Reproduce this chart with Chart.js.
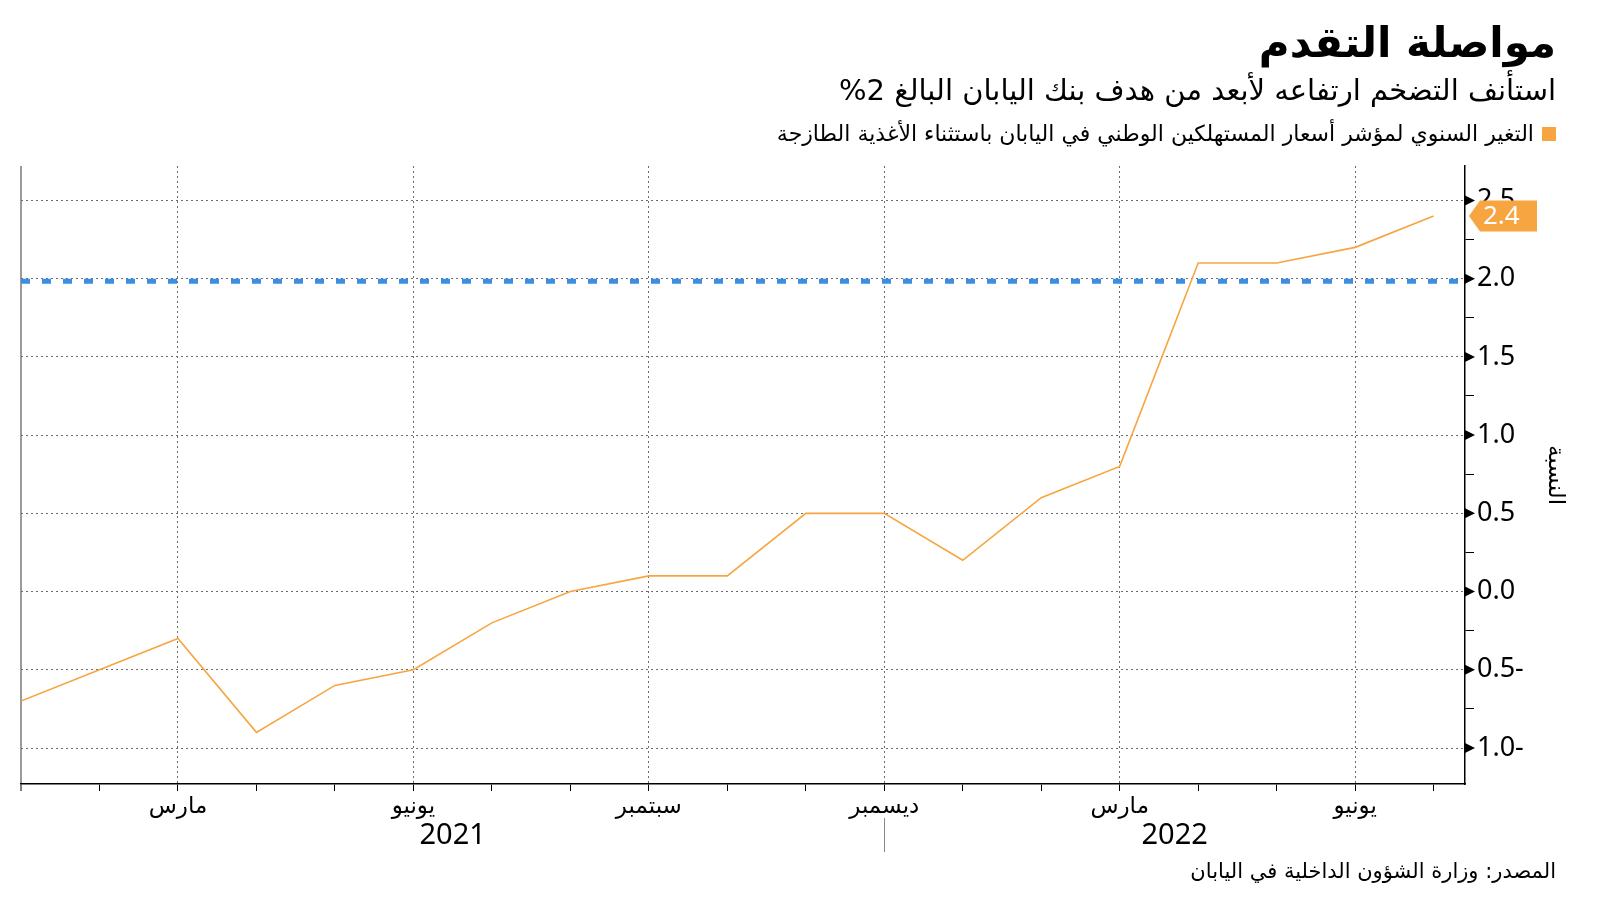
<!DOCTYPE html>
<html lang="ar">
<head>
<meta charset="utf-8">
<script src="https://cdn.jsdelivr.net/npm/chart.js@4/dist/chart.umd.min.js"></script>
<style>
    html, body { margin: 0; padding: 0; background: #fff; }
    #wrap { position: relative; width: 1600px; height: 901px; overflow: hidden; }
    #chart { position: absolute; left: 0; top: 0; }
    .txt {
        position: absolute; right: 44px; direction: rtl; text-align: right;
        font-family: 'DejaVu Sans', sans-serif; color: #000; white-space: nowrap;
    }
    #title { top: 18px; font-size: 42px; font-weight: bold; }
    #subtitle { top: 73px; font-size: 29px; }
    #legend { top: 121px; font-size: 22px; }
    #legend .sw { display: inline-block; width: 14px; height: 14px; background: #f7a541; margin-left: 8px; vertical-align: 0px; }
    #source { top: 859px; font-size: 21px; }
</style>
</head>
<body>
<div id="wrap">
    <canvas id="chart" width="1600" height="901"></canvas>
    <div class="txt" id="title">مواصلة التقدم</div>
    <div class="txt" id="subtitle">استأنف التضخم ارتفاعه لأبعد من هدف بنك اليابان البالغ 2%</div>
    <div class="txt" id="legend"><span class="sw"></span>التغير السنوي لمؤشر أسعار المستهلكين الوطني في اليابان باستثناء الأغذية الطازجة</div>
    <div class="txt" id="source">المصدر: وزارة الشؤون الداخلية في اليابان</div>
</div>
<script>
// Jan 2021 .. Jul 2022
const MONTH_LABELS = [
    'يناير','فبراير','مارس','أبريل','مايو','يونيو','يوليو','أغسطس','سبتمبر','أكتوبر','نوفمبر','ديسمبر',
    'يناير','فبراير','مارس','أبريل','مايو','يونيو','يوليو'
];
const CORE_CPI = [-0.7, -0.5, -0.3, -0.9, -0.6, -0.5, -0.2, 0.0, 0.1, 0.1, 0.5, 0.5, 0.2, 0.6, 0.8, 2.1, 2.1, 2.2, 2.4];
const LABELLED_MONTHS = [2, 5, 8, 11, 14, 17];
const YEAR_LABELS = ['2021', '2022'];
const YEAR_BREAKS = [0, 11, 18.4];   // year label sits centred between breaks
const BOJ_TARGET = 2.0;
const X_MAX = 18.4;
const Y_MIN = -1.23, Y_MAX = 2.72;

const ORANGE = '#f7a541';
const BLUE = '#3b8de6';
const GRID = '#6d6d6d';
const NUM_FONT = "'Noto Sans', 'DejaVu Sans', sans-serif";

function fmtY(v) {
    const s = Math.abs(v).toFixed(1);
    return v < 0 ? s + '-' : s;
}
function isMajor(v) {
    return Math.abs(v * 2 - Math.round(v * 2)) < 1e-6;
}

const extras = {
    id: 'extras',
    // the target band sits just under its grid line in the original
    beforeDatasetDraw(chart, args) {
        if (args.index !== 0) return;
        chart.ctx.save();
        chart.ctx.translate(0, 2.5);
    },
    afterDatasetDraw(chart, args) {
        if (args.index !== 0) return;
        chart.ctx.restore();
    },
    afterDraw(chart) {
        const ctx = chart.ctx;
        const x = chart.scales.x, y = chart.scales.y;
        const axisX = chart.chartArea.right;

        // arrow heads on the major y ticks
        ctx.save();
        ctx.fillStyle = '#000';
        y.ticks.forEach(t => {
            if (!isMajor(t.value)) return;
            const py = y.getPixelForValue(t.value);
            ctx.beginPath();
            ctx.moveTo(axisX, py - 5);
            ctx.lineTo(axisX + 10, py);
            ctx.lineTo(axisX, py + 5);
            ctx.closePath();
            ctx.fill();
        });

        // year divider + year labels
        const bottom = chart.chartArea.bottom;
        ctx.strokeStyle = '#888';
        ctx.lineWidth = 1;
        for (let i = 1; i < YEAR_BREAKS.length - 1; i++) {
            const px = Math.round(x.getPixelForValue(YEAR_BREAKS[i])) + 0.5;
            ctx.beginPath();
            ctx.moveTo(px, bottom + 34);
            ctx.lineTo(px, bottom + 68);
            ctx.stroke();
        }
        ctx.fillStyle = '#000';
        ctx.font = '29px ' + NUM_FONT;
        ctx.textAlign = 'center';
        ctx.textBaseline = 'middle';
        YEAR_LABELS.forEach((lab, i) => {
            const mid = (YEAR_BREAKS[i] + YEAR_BREAKS[i + 1]) / 2;
            ctx.fillText(lab, x.getPixelForValue(mid), bottom + 52);
        });

        // last value tag
        const last = CORE_CPI.length - 1;
        const ty = y.getPixelForValue(CORE_CPI[last]);
        const tx = axisX + 4;
        const h = 31;
        ctx.fillStyle = ORANGE;
        ctx.beginPath();
        ctx.moveTo(tx, ty);
        ctx.lineTo(tx + 11, ty - h / 2);
        ctx.lineTo(tx + 68, ty - h / 2);
        ctx.lineTo(tx + 68, ty + h / 2);
        ctx.lineTo(tx + 11, ty + h / 2);
        ctx.closePath();
        ctx.fill();
        ctx.fillStyle = '#fff';
        ctx.font = '26px ' + NUM_FONT;
        ctx.textAlign = 'left';
        ctx.fillText(CORE_CPI[last].toFixed(1), tx + 14, ty + 1);
        ctx.restore();
    }
};

const ctx = document.getElementById('chart').getContext('2d');
new Chart(ctx, {
    type: 'line',
    data: {
        datasets: [
            {
                label: 'BoJ target',
                data: [{ x: 0, y: BOJ_TARGET }, { x: X_MAX, y: BOJ_TARGET }],
                borderColor: BLUE,
                borderWidth: 5,
                borderDash: [9, 12],
                pointRadius: 0,
                order: 2
            },
            {
                label: 'Core CPI',
                data: CORE_CPI.map((v, i) => ({ x: i, y: v })),
                borderColor: ORANGE,
                borderWidth: 1.6,
                pointRadius: 0,
                tension: 0,
                order: 1
            }
        ]
    },
    options: {
        responsive: false,
        animation: false,
        events: [],
        layout: { padding: { top: 166, left: 21, right: 0, bottom: 0 } },
        plugins: { legend: { display: false }, tooltip: { enabled: false } },
        scales: {
            x: {
                type: 'linear',
                min: 0,
                max: X_MAX,
                afterFit(s) { s.height = 117; },
                afterBuildTicks(s) {
                    s.ticks = MONTH_LABELS.map((_, i) => ({ value: i }));
                },
                ticks: {
                    autoSkip: false,
                    maxRotation: 0,
                    padding: 2,
                    color: '#000',
                    font: { family: NUM_FONT, size: 23 },
                    callback: (v) => LABELLED_MONTHS.includes(v) ? MONTH_LABELS[v] : ''
                },
                grid: {
                    color: (c) => c.index === 0 ? '#9a9a9a' : (LABELLED_MONTHS.includes(c.tick && c.tick.value) ? GRID : 'rgba(0,0,0,0)'),
                    lineWidth: (c) => c.index === 0 ? 2 : 1,
                    tickColor: '#000',
                    tickLength: 7,
                    tickWidth: 1
                },
                border: { display: true, color: '#000', width: 1.5, dash: (c) => c.index === 0 ? [] : [2, 3] }
            },
            y: {
                type: 'linear',
                position: 'right',
                min: Y_MIN,
                max: Y_MAX,
                afterFit(s) { s.width = 135; },
                ticks: {
                    stepSize: 0.25,
                    includeBounds: false,
                    autoSkip: false,
                    padding: 3,
                    color: '#000',
                    font: { family: NUM_FONT, size: 27 },
                    callback: (v) => isMajor(v) ? fmtY(v) : ''
                },
                grid: {
                    color: (c) => c.tick && isMajor(c.tick.value) ? GRID : 'rgba(0,0,0,0)',
                    lineWidth: 1,
                    tickColor: (c) => c.tick && isMajor(c.tick.value) ? 'rgba(0,0,0,0)' : '#000',
                    tickLength: 9,
                    tickWidth: 1
                },
                border: { display: true, color: '#000', width: 1.5, dash: [2, 3] },
                title: {
                    display: true,
                    text: 'النسبة',
                    color: '#000',
                    font: { family: "'DejaVu Sans', sans-serif", size: 23 },
                    padding: { top: 31, bottom: 0 }
                }
            }
        }
    },
    plugins: [extras]
});
</script>
</body>
</html>
